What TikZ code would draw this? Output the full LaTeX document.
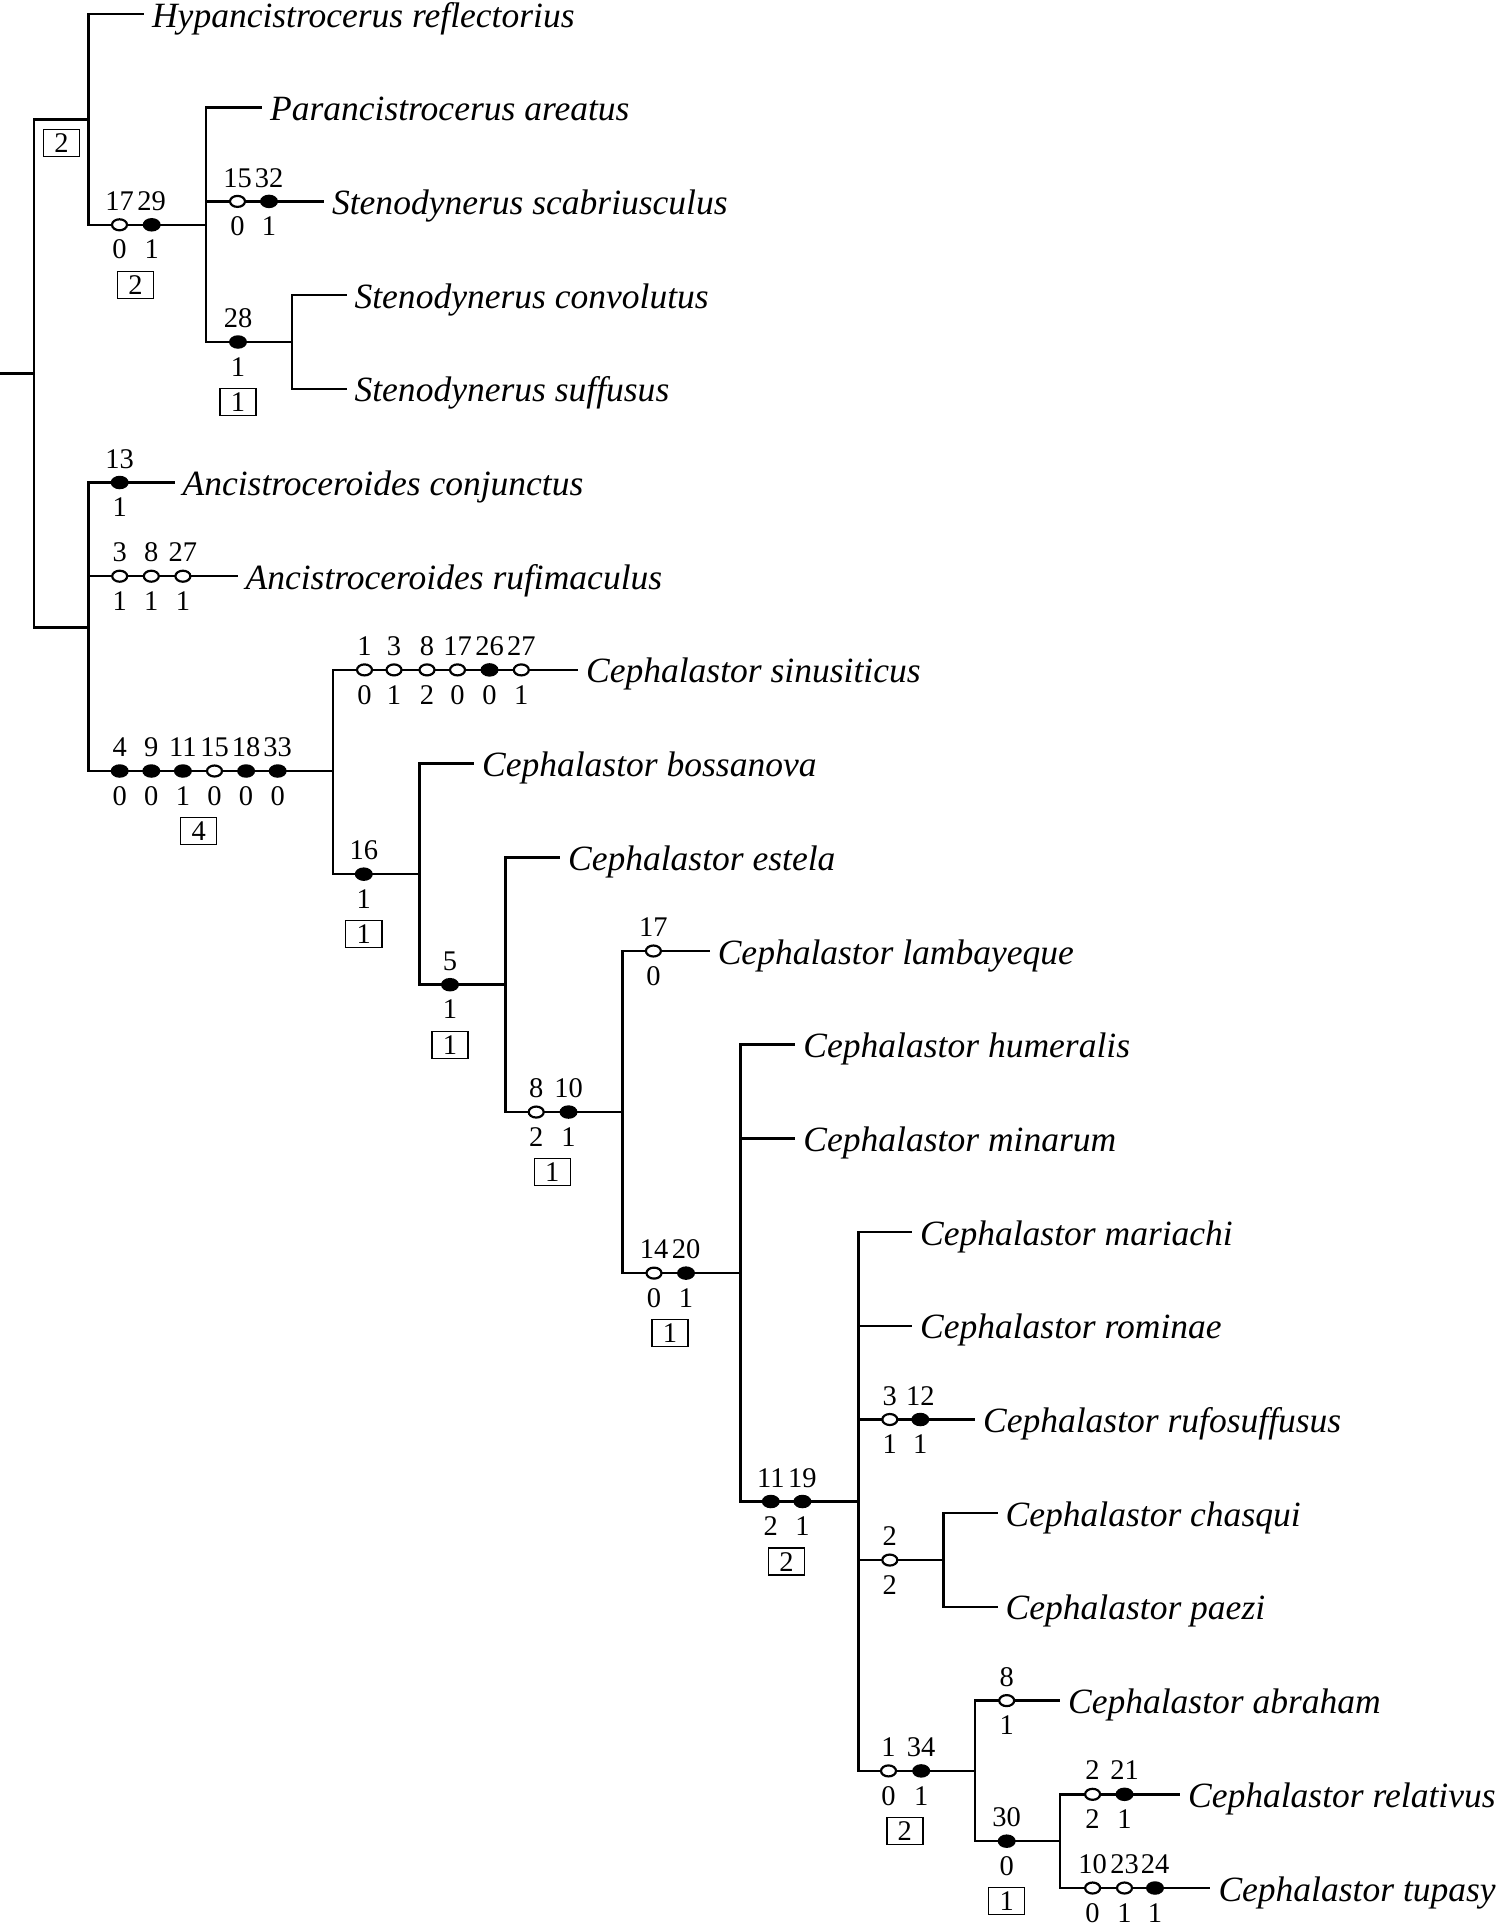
\documentclass[tikz,border=0pt]{standalone}
\usepackage{fontspec}
\setmainfont{Liberation Serif}
\usetikzlibrary{shapes.geometric}
\tikzset{
  br/.style={line width=0.72pt},
  oc/.style={ellipse, draw, fill=white, line width=0.62pt, minimum width=0.15cm, minimum height=0.11cm, inner sep=0pt},
  fc/.style={ellipse, fill=black, minimum width=0.18cm, minimum height=0.135cm, inner sep=0pt},
  lab/.style={inner sep=0pt, text height=5.5pt, text depth=0pt, font=\fontsize{8.1}{9}\selectfont},
  cbox/.style={draw, line width=0.4pt, minimum width=0.36cm, minimum height=0.27cm, inner sep=0pt, text height=5.5pt, text depth=0pt, font=\fontsize{8.1}{9}\selectfont},
  tax/.style={anchor=west, inner xsep=2.1pt, inner ysep=0pt, text height=8.3pt, text depth=0.9pt, font=\itshape\fontsize{10.1}{12}\selectfont}
}
\newcommand\chr[6]{%
  \node[#4] (#1) at (#2,#3) {};
  \node[lab] (#1-t) at (#2,#3-24) {#5};
  \node[lab] (#1-b) at (#2,#3+24.5) {#6};
}
\newcommand\bx[4]{\node[cbox] (#1) at (#2,#3+60) {#4};}
\begin{document}
\begin{tikzpicture}[x=0.01cm,y=-0.01cm]
\useasboundingbox (0,0) rectangle (1504,1924);
% internal nodes
\coordinate (stub) at (0,373.3);
\coordinate (r) at (34,373.3);
\coordinate (top) at (88.7,119.4);
\coordinate (A) at (206,224.8);
\coordinate (c28) at (292,342);
\coordinate (low) at (88.7,627.25);
\coordinate (ceph) at (333,771);
\coordinate (n16) at (419.3,874.15);
\coordinate (n5) at (505.5,984.7);
\coordinate (n810) at (622.7,1112.05);
\coordinate (n1420) at (740.3,1273.1);
\coordinate (n1119) at (858.5,1501.5);
\coordinate (n2) at (943.7,1560.05);
\coordinate (n134) at (975,1770.9);
\coordinate (n30) at (1060,1841.15);
% taxa
\node[tax] (hyp) at (144,14) {Hypancistrocerus reflectorius};
\node[tax] (para) at (262,107.7) {Parancistrocerus areatus};
\node[tax] (scab) at (324,201.4) {Stenodynerus scabriusculus};
\node[tax] (conv) at (346.5,295.1) {Stenodynerus convolutus};
\node[tax] (suff) at (346.5,388.8) {Stenodynerus suffusus};
\node[tax] (conj) at (174.5,482.5) {Ancistroceroides conjunctus};
\node[tax] (rufi) at (237.5,576.2) {Ancistroceroides rufimaculus};
\node[tax] (sinu) at (578,669.9) {Cephalastor sinusiticus};
\node[tax] (boss) at (474,763.6) {Cephalastor bossanova};
\node[tax] (este) at (560,857.3) {Cephalastor estela};
\node[tax] (lamb) at (709.7,951) {Cephalastor lambayeque};
\node[tax] (hume) at (795.4,1044.7) {Cephalastor humeralis};
\node[tax] (mina) at (795.4,1138.4) {Cephalastor minarum};
\node[tax] (mari) at (912,1232.1) {Cephalastor mariachi};
\node[tax] (romi) at (912,1325.8) {Cephalastor rominae};
\node[tax] (rufo) at (975,1419.5) {Cephalastor rufosuffusus};
\node[tax] (chas) at (997.6,1513.2) {Cephalastor chasqui};
\node[tax] (paez) at (997.6,1606.9) {Cephalastor paezi};
\node[tax] (abra) at (1060,1700.6) {Cephalastor abraham};
\node[tax] (rela) at (1180,1794.3) {Cephalastor relativus};
\node[tax] (tupa) at (1210.4,1888) {Cephalastor tupasy};
% branches
\draw[br] (stub) -- (r);
\draw[br] (r) |- (top);
\draw[br] (r) |- (low);
\draw[br] (top) |- (hyp.west);
\draw[br] (top) |- (A);
\draw[br] (A) |- (para.west);
\draw[br] (A) |- (scab.west);
\draw[br] (A) |- (c28);
\draw[br] (c28) |- (conv.west);
\draw[br] (c28) |- (suff.west);
\draw[br] (low) |- (conj.west);
\draw[br] (low) |- (rufi.west);
\draw[br] (low) |- (ceph);
\draw[br] (ceph) |- (sinu.west);
\draw[br] (ceph) |- (n16);
\draw[br] (n16) |- (boss.west);
\draw[br] (n16) |- (n5);
\draw[br] (n5) |- (este.west);
\draw[br] (n5) |- (n810);
\draw[br] (n810) |- (lamb.west);
\draw[br] (n810) |- (n1420);
\draw[br] (n1420) |- (hume.west);
\draw[br] (n1420) |- (mina.west);
\draw[br] (n1420) |- (n1119);
\draw[br] (n1119) |- (mari.west);
\draw[br] (n1119) |- (romi.west);
\draw[br] (n1119) |- (rufo.west);
\draw[br] (n1119) |- (n2);
\draw[br] (n1119) |- (n134);
\draw[br] (n2) |- (chas.west);
\draw[br] (n2) |- (paez.west);
\draw[br] (n134) |- (abra.west);
\draw[br] (n134) |- (n30);
\draw[br] (n30) |- (rela.west);
\draw[br] (n30) |- (tupa.west);
% characters
\node[cbox] (btop) at (61.4,143) {2};
\chr{a17}{119.5}{224.8}{oc}{17}{0}
\chr{a29}{151.7}{224.8}{fc}{29}{1}
\bx{bA}{135.5}{224.8}{2}
\chr{s15}{237.5}{201.4}{oc}{15}{0}
\chr{s32}{269}{201.4}{fc}{32}{1}
\chr{k28}{238}{342}{fc}{28}{1}
\bx{b28}{238}{342}{1}
\chr{j13}{119.7}{482.5}{fc}{13}{1}
\chr{u3}{119.7}{576.2}{oc}{3}{1}
\chr{u8}{151.3}{576.2}{oc}{8}{1}
\chr{u27}{182.9}{576.2}{oc}{27}{1}
\chr{c4}{119.7}{771}{fc}{4}{0}
\chr{c9}{151.3}{771}{fc}{9}{0}
\chr{c11}{182.9}{771}{fc}{11}{1}
\chr{c15}{214.5}{771}{oc}{15}{0}
\chr{c18}{246.1}{771}{fc}{18}{0}
\chr{c33}{277.7}{771}{fc}{33}{0}
\bx{bceph}{198.7}{771}{4}
\chr{i1}{364.5}{669.9}{oc}{1}{0}
\chr{i3}{394}{669.9}{oc}{3}{1}
\chr{i8}{427}{669.9}{oc}{8}{2}
\chr{i17}{457.5}{669.9}{oc}{17}{0}
\chr{i26}{489.5}{669.9}{fc}{26}{0}
\chr{i27}{521.3}{669.9}{oc}{27}{1}
\chr{k16}{363.8}{874.15}{fc}{16}{1}
\bx{b16}{363.8}{874.15}{1}
\chr{k5}{450}{984.7}{fc}{5}{1}
\bx{b5}{450}{984.7}{1}
\chr{k8}{536.2}{1112.05}{oc}{8}{2}
\chr{k10}{568.5}{1112.05}{fc}{10}{1}
\bx{b810}{552.3}{1112.05}{1}
\chr{l17}{653.4}{951}{oc}{17}{0}
\chr{k14}{654}{1273.1}{oc}{14}{0}
\chr{k20}{686}{1273.1}{fc}{20}{1}
\bx{b1420}{670}{1273.1}{1}
\chr{k11}{770.8}{1501.5}{fc}{11}{2}
\chr{k19}{802.4}{1501.5}{fc}{19}{1}
\bx{b1119}{786.6}{1501.5}{2}
\chr{f3}{889.8}{1419.5}{oc}{3}{1}
\chr{f12}{920.3}{1419.5}{fc}{12}{1}
\chr{k2}{889.8}{1560.05}{oc}{2}{2}
\chr{k1}{888.5}{1770.9}{oc}{1}{0}
\chr{k34}{921.2}{1770.9}{fc}{34}{1}
\bx{b134}{904.8}{1770.9}{2}
\chr{h8}{1006.7}{1700.6}{oc}{8}{1}
\chr{k30}{1006.7}{1841.15}{fc}{30}{0}
\bx{b30}{1006.7}{1841.15}{1}
\chr{e2}{1092.6}{1794.3}{oc}{2}{2}
\chr{e21}{1124.5}{1794.3}{fc}{21}{1}
\chr{t10}{1092.6}{1888}{oc}{10}{0}
\chr{t23}{1124.5}{1888}{oc}{23}{1}
\chr{t24}{1155}{1888}{fc}{24}{1}
\end{tikzpicture}
\end{document}
